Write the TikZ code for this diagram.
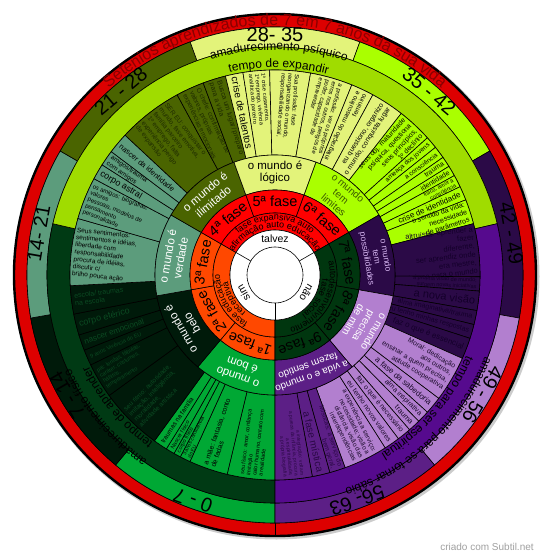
\documentclass[tikz,border=0pt]{standalone}
\usepackage{fontspec}
\setmainfont{Liberation Sans}
\usetikzlibrary{decorations.text}
\definecolor{cBom}{HTML}{00A834}
\definecolor{cBelo}{HTML}{001A0A}
\definecolor{cBeloT}{HTML}{0B4A22}
\definecolor{cVerd}{HTML}{5C9C7C}
\definecolor{cIlim}{HTML}{4A6400}
\definecolor{cIlimT}{HTML}{1E2A00}
\definecolor{cLog}{HTML}{E3F37A}
\definecolor{cLim}{HTML}{AAFF00}
\definecolor{cLimT}{HTML}{3C5A00}
\definecolor{cPoss}{HTML}{2B0A47}
\definecolor{cPossT}{HTML}{14002A}
\definecolor{cPossL}{HTML}{D7B6F2}
\definecolor{cPrec}{HTML}{B27FCF}
\definecolor{cPrecT}{HTML}{1A0A2A}
\definecolor{cSent}{HTML}{5C1F86}
\definecolor{cSentT}{HTML}{2A0845}
\definecolor{cRec}{HTML}{FF4800}
\definecolor{cExp}{HTML}{FF0000}
\definecolor{cSoc}{HTML}{00360F}
\definecolor{cBg}{HTML}{003A14}
\definecolor{cBl}{HTML}{A0DC00}
\definecolor{cBp}{HTML}{560A8E}
\definecolor{cRed}{HTML}{DD0000}
\definecolor{cTitle}{HTML}{8A0000}
\newcount\tcount
\newcommand\ringsec[5]{\filldraw[fill=#5,draw=black,line width=0.6pt] (#1:#3pt) arc[start angle=#1,end angle=#2,radius=#3pt] -- (#2:#4pt) arc[start angle=#2,end angle=#1,radius=#4pt] -- cycle;}
\newcommand\tent[6]{%
  \ringsec{#1}{#2}{120}{205}{#3}%
  \pgfmathsetmacro\tmid{(#1+#2)/2}%
  \pgfmathsetmacro\tbls{#5*1.12}%
  \pgfmathtruncatemacro\tflip{(\tmid>70)?1:0}%
  \global\advance\tcount by 1
  \ifnum\tflip=1
    \node[name=t\the\tcount, anchor=west, rotate=\tmid+180, align=left, text=#4, inner sep=0pt, font=\fontsize{#5}{\tbls}\selectfont] at (\tmid:202pt) {#6};%
  \else
    \node[name=t\the\tcount, anchor=east, rotate=\tmid, align=right, text=#4, inner sep=0pt, font=\fontsize{#5}{\tbls}\selectfont] at (\tmid:202pt) {#6};%
  \fi
}
\newcommand\rlab[6]{% name, mid angle, radius, size, color, text
  \pgfmathsetmacro\tbls{#4*1.12}%
  \node[name=#1, rotate=#2-90, align=center, text=#5, inner sep=0pt, font=\fontsize{#4}{\tbls}\selectfont] at (#2:#3pt) {#6};
}
\newcommand\ctext[5]{% start, end, radius, size, text (clockwise, tops outward)
  \path[decorate, decoration={text along path, text align=center, text={|\fontsize{#4}{#4}\selectfont|#5}}] (#1:#3pt) arc[start angle=#1, end angle=#2, radius=#3pt];
}
\begin{document}
\begin{tikzpicture}[x=1pt,y=1pt]
\useasboundingbox (-275,-284) rectangle (275,275);
% shadow and outer ring
\fill[gray!40] (1.5,-1.5) circle[radius=263pt];
\filldraw[fill=cRed, draw=black, line width=2.4pt] (0,0) circle[radius=261pt];
\draw[line width=0.6pt] (0,0) circle[radius=248pt];
\draw[line width=0.6pt] (270:248pt) -- (270:261pt);
\path[decorate, decoration={text along path, text align=center, text color=cTitle, text={|\fontsize{16}{16}\selectfont|Setenios aprendizados de 7 em 7 anos da sua vida}}] (178:250pt) arc[start angle=178, end angle=2, radius=250pt];
% A ring: ages
\ringsec{230}{270}{228}{248}{cBom}
\ringsec{190}{230}{228}{248}{cBelo}
\ringsec{150}{190}{228}{248}{cVerd}
\ringsec{110}{150}{228}{248}{cIlim}
\ringsec{70}{110}{228}{248}{cLog}
\ringsec{30}{70}{228}{248}{cLim}
\ringsec{-10}{30}{228}{248}{cPoss}
\ringsec{-50}{-10}{228}{248}{cPrec}
\ringsec{-90}{-50}{228}{248}{cSent}
% B ring
\ringsec{167}{270}{205}{228}{cBg}
\ringsec{13}{167}{205}{228}{cBl}
\ringsec{-90}{13}{205}{228}{cBp}
\rlab{a1}{250}{240}{20}{black}{0 - 7}
\rlab{a2}{210}{240}{20}{black}{7 - 14}
\rlab{a3}{170}{240}{20}{black}{14- 21}
\rlab{a4}{130}{240}{20}{black}{21 - 28}
\rlab{a5}{90}{240}{20}{black}{28- 35}
\rlab{a6}{50}{240}{20}{black}{35 - 42}
\rlab{a7}{10}{240}{20}{black}{42 - 49}
\rlab{a8}{-30}{240}{20}{black}{49 - 56}
\rlab{a9}{-70}{240}{20}{black}{56- 63}
\ctext{168}{10}{225}{12}{amadurecimento psíquico}
\ctext{168}{10}{207.5}{12}{tempo de expandir}
\ctext{268}{172}{225}{12}{amadurecimento físico}
\ctext{268}{172}{207.5}{12}{tempo de aprender}
\ctext{0}{-93}{225}{12}{amadurecimento para se tornar sábio}
\ctext{0}{-82}{207.5}{12}{tempo para ser espiritual}
% text ring
\tent{256.5}{270}{cBom}{black}{5.5}{seu físico: amor, confiança\\imitação\\calor humano, contato com\\a realidade}
\tent{245.5}{256.5}{cBom}{black}{7}{a mãe: fantasia, conto\\de fadas}
\tent{242.5}{245.5}{cBom}{black}{5}{3 anos consciência\\do EU}
\tent{240.5}{242.5}{cBom}{black}{5.5}{corpo físico}
\tent{238}{240.5}{cBom}{black}{5.5}{Nascer físico}
\tent{234}{238}{cBom}{black}{6.5}{traumas na família}
\tent{216}{234}{cBelo}{cBeloT}{6.5}{seu ritmo: autoridade,\\imitação, inteligência,\\moralidade,\\atividade artística}
\tent{206}{216}{cBelo}{cBeloT}{5.5}{pai: lendas, fábulas,\\caráter, costumes,\\hábitos,\\temperamento}
\tent{201.5}{206}{cBelo}{cBeloT}{5.5}{9 anos Vivência do EU}
\tent{197}{201.5}{cBelo}{cBeloT}{8}{nascer emocional}
\tent{191}{197}{cBelo}{cBeloT}{9}{corpo etérico}
\tent{183}{191}{cBelo}{cBeloT}{7}{escola/ traumas\\na escola}
\tent{164}{183}{cVerd}{black}{6.5}{Seus sentimentos:\\sentimentos e idéias,\\liberdade com\\responsabilidade\\procura de idéias,\\discutir c/\\brilho pouca ação}
\tent{152}{164}{cVerd}{black}{6}{os amigos: biografias,\\valores\\pessoais, modelos de\\pensamento\\personalidade}
\tent{147.5}{152}{cVerd}{black}{9}{corpo astral}
\tent{143}{147.5}{cVerd}{black}{6.5}{amigos/trauma\\com amigos}
\tent{137}{143}{cVerd}{black}{7.5}{nascer da identidade}
\tent{118.5}{137}{cIlim}{cIlimT}{6.5}{SER EU: conquistar o\\mundo, fase emotiva,\\família parceiro\\1º emprego, falta\\experiência perigo\\de expansão}
\tent{110.5}{118.5}{cIlim}{cIlimT}{6.5}{O chefe: confirmação de\\valores, próprias\\experiências emocionais}
\tent{104}{110.5}{cIlim}{cIlimT}{7}{Busca um lugar/ preparo\\para a vida}
\tent{99}{104}{cLog}{black}{10}{crise de talentos}
\tent{91.5}{99}{cLog}{black}{5.5}{1ª crise casamento,\\1º emprego, vivência\\analítica do parceiro}
\tent{80}{91.5}{cLog}{black}{6}{Sua profissão: fase\\reorganizando o mundo,\\responsabilidade social,}
\tent{68}{80}{cLog}{black}{6}{a profissão: ver os próprios\\erros nos outros, perigos de\\poder, capacidade de\\empreender}
\tent{61.5}{68}{cLog}{black}{6.5}{integração do masculino e\\feminino}
\tent{52}{61.5}{cLog}{black}{7}{eu questiono, organizo\\o mundo, conquista lugar}
\tent{42}{52}{cLim}{black}{7}{seus obj. maturidade\\psíquica, questiona\\seus princípios,\\1º declínio}
\tent{38.5}{42}{cLim}{black}{6.5}{ameaça dos jovens}
\tent{35}{38.5}{cLim}{black}{6.5}{a consciência}
\tent{32}{35}{cLim}{black}{7}{trauma}
\tent{29}{32}{cLim}{black}{7}{identidade}
\tent{25.5}{29}{cLim}{black}{5.5}{físico, amor à\\consciência}
\tent{21.5}{25.5}{cLim}{black}{8}{crise de identidade}
\tent{14.5}{21.5}{cLim}{black}{7}{o sentido da vida:\\necessidade\\de parâmetros}
\tent{-0.5}{14.5}{cPoss}{cPossT}{7.5}{altruísta: aprender a\\fazer\\diferente,\\ser aprendiz onde\\era mestre,\\abrir-se para o mundo}
\tent{-4.5}{-0.5}{cPoss}{cPossT}{5.5}{a própria visão de mundo:\\surgem novas iniciativas}
\tent{-10}{-4.5}{cPoss}{cPossT}{11}{a nova visão}
\tent{-14}{-10}{cPoss}{cPossT}{7}{alma imaginativa/trauma}
\tent{-18}{-14}{cPoss}{cPossT}{7}{eu tenho minhas respostas}
\tent{-24}{-18}{cPoss}{cPossT}{8}{faz o que é essencial}
\tent{-37}{-24}{cPrec}{cPrecT}{7}{Moral: dedicação\\aos outros,\\ensinar a quem precisa,\\atitude cooperativa}
\tent{-42}{-37}{cPrec}{cPrecT}{8}{a fase da sabedoria}
\tent{-45.5}{-42}{cPrec}{cPrecT}{7}{alma inspirativa}
\tent{-49}{-45.5}{cPrec}{cPrecT}{7.5}{trauma}
\tent{-53}{-49}{cPrec}{cPrecT}{7}{faz o que é necessário}
\tent{-57.5}{-53}{cPrec}{cPrecT}{7}{eu tenho novos valores}
\tent{-70}{-57.5}{cPrec}{cPrecT}{6.5}{a experiência a serviço:\\necessidade; visão a\\distância, visão das\\interdependências}
\tent{-74.5}{-70}{cSent}{cSentT}{6.5}{Místicas: a serviço do\\bem geral,}
\tent{-79.5}{-74.5}{cSent}{cSentT}{10}{a fase mística}
\tent{-90}{-79.5}{cSent}{cSentT}{5}{a integração: voltam\\a pureza da infância, procura\\a espiritualidade,\\a própria biografia}
% M ring
\ringsec{230}{270}{85}{120}{cBom}
\ringsec{190}{230}{85}{120}{cBelo}
\ringsec{150}{190}{85}{120}{cVerd}
\ringsec{110}{150}{85}{120}{cIlim}
\ringsec{70}{110}{85}{120}{cLog}
\ringsec{30}{70}{85}{120}{cLim}
\ringsec{-10}{30}{85}{120}{cPoss}
\ringsec{-50}{-10}{85}{120}{cPrec}
\ringsec{-90}{-50}{85}{120}{cSent}
\rlab{m1}{250}{102.5}{11.5}{white}{o mundo\\é bom}
\rlab{m2}{210}{102.5}{11.5}{white}{o mundo é\\belo}
\rlab{m3}{170}{102.5}{11.5}{white}{o mundo é\\verdade}
\rlab{m4}{130}{102.5}{11.5}{white}{o mundo é\\ilimitado}
\rlab{m5}{90}{102.5}{11.5}{black}{o mundo é\\lógico}
\rlab{m6}{50}{102.5}{10}{cLimT}{o mundo\\tem\\limites}
\rlab{m7}{10}{102.5}{8.5}{cPossL}{o mundo\\tem\\possibilidades}
\rlab{m8}{-30}{102.5}{10.5}{white}{o mundo\\precisa\\de mim}
\rlab{m9}{-70}{102.5}{10}{white}{a vida e o mundo\\fazem sentido}
% fase ring
\ringsec{230}{270}{62}{85}{cRec}
\ringsec{190}{230}{62}{85}{cRec}
\ringsec{150}{190}{62}{85}{cRec}
\ringsec{110}{150}{62}{85}{cExp}
\ringsec{70}{110}{62}{85}{cExp}
\ringsec{30}{70}{62}{85}{cExp}
\ringsec{-10}{30}{62}{85}{cSoc}
\ringsec{-50}{-10}{62}{85}{cSoc}
\ringsec{-90}{-50}{62}{85}{cSoc}
\rlab{f1}{250}{73.5}{14.5}{black}{1ª fase}
\rlab{f2}{210}{73.5}{14.5}{black}{2ª fase}
\rlab{f3}{170}{73.5}{14.5}{black}{3ª fase}
\rlab{f4}{130}{73.5}{14.5}{black}{4ª fase}
\rlab{f5}{90}{73.5}{14.5}{black}{5ª fase}
\rlab{f6}{50}{73.5}{14.5}{black}{6ª fase}
\rlab{f7}{10}{73.5}{14.5}{black}{7ª fase}
\rlab{f8}{-30}{73.5}{14.5}{black}{8ª fase}
\rlab{f9}{-70}{73.5}{14.5}{black}{9ª fase}
% type ring
\ringsec{150}{270}{45}{62}{cRec}
\ringsec{30}{150}{45}{62}{cExp}
\ringsec{-90}{30}{45}{62}{cSoc}
\ctext{150}{30}{55}{9}{fase expansiva auto}
\ctext{150}{30}{47.5}{9}{afirmação auto educação}
\ctext{268}{152}{55}{9}{fase educação}
\ctext{268}{152}{47.5}{9}{receptiva}
\ctext{28}{-88}{55}{9}{autodesenvolvimento}
\ctext{28}{-88}{47.5}{9}{fase social}
% centre
\filldraw[fill=white, draw=black, line width=0.6pt] (0,0) circle[radius=45pt];
\draw[line width=0.6pt] (0,0) circle[radius=28pt];
\draw[line width=0.6pt] (30:28pt) -- (30:45pt);
\draw[line width=0.6pt] (150:28pt) -- (150:45pt);
\draw[line width=0.6pt] (270:28pt) -- (270:45pt);
\rlab{c1}{90}{36.5}{10.5}{black}{talvez}
\rlab{c2}{210}{36.5}{10.5}{black}{sim}
\rlab{c3}{330}{36.5}{10.5}{black}{não}
\node[name=credit, text=gray!75, font=\fontsize{10}{12}\selectfont] at (212,-272) {criado com Subtil.net};
\end{tikzpicture}
\end{document}
